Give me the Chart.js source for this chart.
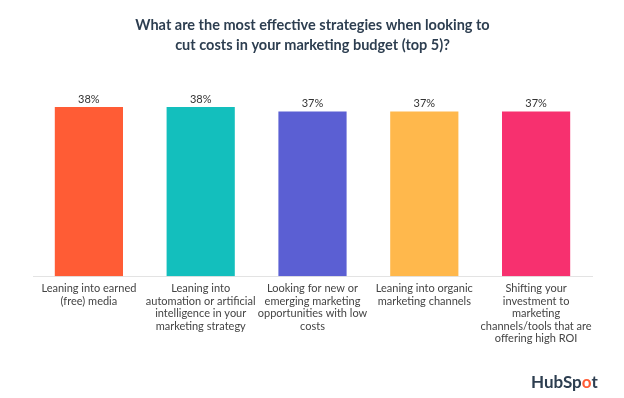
<!DOCTYPE html>
<html>
<head>
<meta charset="utf-8">
<script src="https://cdn.jsdelivr.net/npm/chart.js@4"></script>
<style>
  html, body { margin: 0; padding: 0; background: #fff; }
  #wrap { width: 624px; height: 398px; position: relative; }
</style>
</head>
<body>
<div id="wrap"><canvas id="getChart"></canvas></div>
<script>
var categories = [
    ["Leaning into earned", "(free) media"],
    ["Leaning into", "automation or artificial", "intelligence in your", "marketing strategy"],
    ["Looking for new or", "emerging marketing", "opportunities with low", "costs"],
    ["Leaning into organic", "marketing channels"],
    ["Shifting your", "investment to", "marketing", "channels/tools that are", "offering high ROI"]
];
var values = [38, 38, 37, 37, 37];
var barColors = ["#FF5C35", "#13BFBD", "#5B5FD3", "#FFB84C", "#F7306F"];
var titleLines = ["What are the most effective strategies when looking to", "cut costs in your marketing budget (top 5)?"];

// percent labels above the bars
var valueLabels = {
    id: "valueLabels",
    afterDatasetsDraw: function (chart) {
        var c = chart.ctx;
        var meta = chart.getDatasetMeta(0);
        c.save();
        c.font = "11px Lato";
        c.fillStyle = "#333";
        c.textAlign = "center";
        c.textBaseline = "bottom";
        meta.data.forEach(function (bar, i) {
            c.fillText(values[i] + "%", bar.x, bar.y - 2);
        });
        c.restore();
    }
};

// HubSpot wordmark bottom right
var brand = {
    id: "brand",
    afterDraw: function (chart) {
        var c = chart.ctx;
        c.save();
        c.font = "bold 17px Lato";
        c.textBaseline = "alphabetic";
        var x = 531, y = 388;
        var parts = [["HubSp", "#2D3E50"], ["o", "#FF5C35"], ["t", "#2D3E50"]];
        parts.forEach(function (p) {
            c.fillStyle = p[1];
            c.fillText(p[0], x, y);
            x += c.measureText(p[0]).width;
        });
        c.restore();
    }
};

var ctx = document.getElementById("getChart");
var chart = new Chart(ctx, {
    type: "bar",
    data: {
        labels: categories,
        datasets: [{
            data: values,
            backgroundColor: barColors,
            borderWidth: 0,
            barPercentage: 0.61,
            categoryPercentage: 1
        }]
    },
    options: {
        responsive: true,
        maintainAspectRatio: false,
        animation: false,
        layout: { padding: { left: 33, right: 32, top: 0, bottom: 47 } },
        plugins: {
            legend: { display: false },
            tooltip: { enabled: false },
            title: {
                display: true,
                text: titleLines,
                color: "#2D3E50",
                font: { family: "Lato", size: 14.5, weight: "bold", lineHeight: 1.35 },
                padding: { top: 16, bottom: 34 }
            }
        },
        scales: {
            x: {
                grid: { display: false, drawTicks: false },
                border: { display: true, color: "#e3e3e3", width: 1 },
                ticks: {
                    color: "#444",
                    font: { family: "Lato", size: 11, lineHeight: 1.14 },
                    padding: 6,
                    maxRotation: 0,
                    autoSkip: false
                }
            },
            y: {
                display: false,
                min: 0,
                max: 42
            }
        }
    },
    plugins: [valueLabels, brand]
});
</script>
</body>
</html>
